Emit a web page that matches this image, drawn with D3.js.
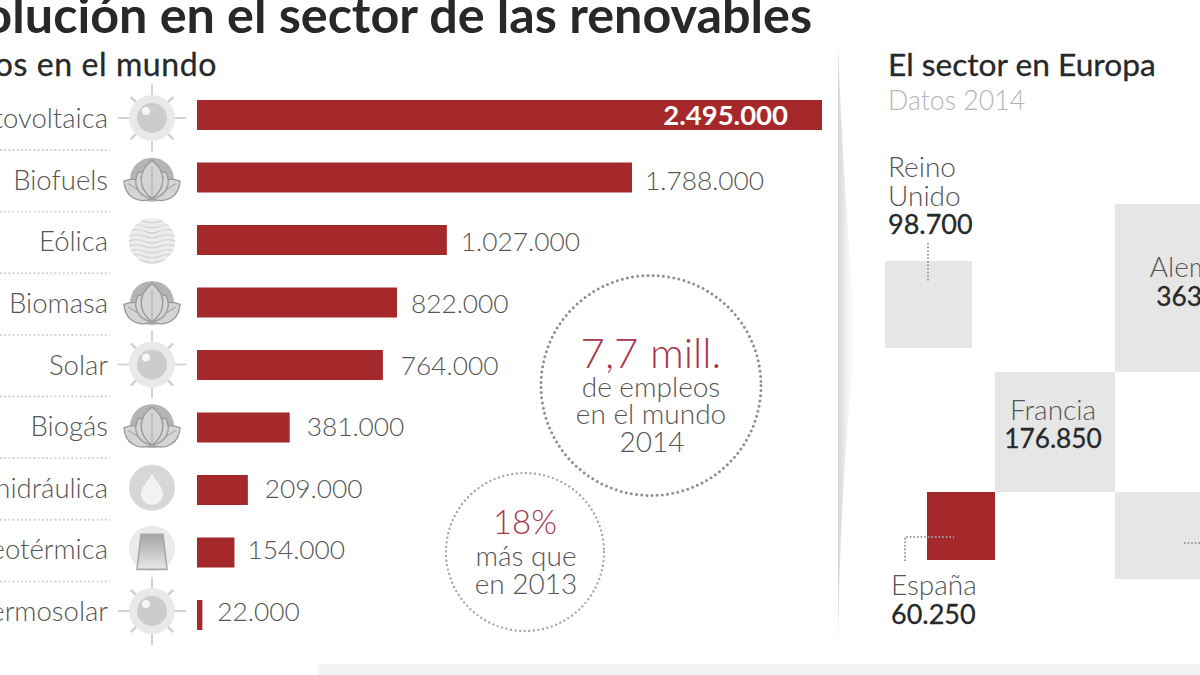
<!DOCTYPE html>
<html><head><meta charset="utf-8">
<script src="https://cdn.jsdelivr.net/npm/d3@7"></script>
<style>html,body{margin:0;padding:0;background:#fff;overflow:hidden}svg{display:block}text{font-family:Lato,sans-serif}</style>
</head><body><svg id="c" width="1200" height="675"></svg>
<script>
const sectors=["Fotovoltaica","Biofuels","Eólica","Biomasa","Solar","Biogás","Minihidráulica","Geotérmica","Termosolar"];
const jobs=[2495000,1788000,1027000,822000,764000,381000,209000,154000,22000];
const icons=["sun","leaf","wave","leaf","sun","leaf","drop","geo","sun"];
const countries=["Reino Unido","Alemania","Francia","España","Italia"];
const countryJobs=[98700,363100,176850,60250,98700];
const fmt=v=>d3.format(",")(v).replace(/,/g,".");

const RED="#a5292b",GREY="#e6e6e6",TXT="#555",DARK="#26282a",ROSE="#a8384c";
const svg=d3.select("#c");
const T=(x,y,s,size,o={})=>svg.append("text").attr("x",x).attr("y",y).text(s)
  .attr("font-size",size).attr("font-weight",o.w||300).attr("fill",o.c||TXT)
  .attr("text-anchor",o.a||"start").attr("stroke",o.sc||"none").attr("stroke-width",o.sw||0)
  .attr("letter-spacing",o.ls||0);

// divider shade + footer strip
const grad=svg.append("defs").append("linearGradient").attr("id","sh");
grad.append("stop").attr("offset",0).attr("stop-color","#d6d6d6");
grad.append("stop").attr("offset",.55).attr("stop-color","#f4f4f4");
grad.append("stop").attr("offset",1).attr("stop-color","#fff");
svg.append("path").attr("d","M838 45 L838 645 Q840 480 856 340 Q842 160 838 45Z").attr("fill","url(#sh)");
svg.append("rect").attr("x",318).attr("y",664).attr("width",882).attr("height",11).attr("fill","#f4f4f4");

// headings
T(812,33,"Evolución en el sector de las renovables",50.3,{a:"end",w:700,c:DARK});
T(217,76,"Empleos en el mundo",32,{a:"end",w:400,c:DARK,sc:DARK,sw:.3,ls:.6});
T(888,76,"El sector en Europa",31.7,{w:400,c:DARK,sc:DARK,sw:.3});
T(888,110,"Datos 2014",26.7,{c:"#b5b5b5"});

// bars
const x=d3.scaleLinear().domain([0,1788000,2495000]).range([0,435,625]);
const yBar=d3.scaleBand().domain(sectors).range([100,630]).paddingInner(.52).paddingOuter(0);
const yRow=d3.scalePoint().domain(sectors).range([118,611]);
svg.append("g").selectAll("rect").data(sectors).join("rect")
  .attr("x",197).attr("y",d=>yBar(d)).attr("height",yBar.bandwidth())
  .attr("width",(d,i)=>x(jobs[i])).attr("fill",RED);

// row labels, separators, icons
const gaps=[0,13,14,14,18,17,17,13,15];
sectors.forEach((s,i)=>{
  const cy=yRow(s),bc=yBar(s)+yBar.bandwidth()/2;
  T(108,cy+10,s,27.5,{a:"end"});
  if(i<sectors.length-1)
    svg.append("line").attr("x1",0).attr("x2",110).attr("y1",cy+32).attr("y2",cy+32)
      .attr("stroke","#cfcfcf").attr("stroke-width",1.8).attr("stroke-dasharray","1.8 2.4");
  if(i===0) T(788,bc+10,fmt(jobs[i]),27.5,{a:"end",w:700,c:"#fff"});
  else T(197+x(jobs[i])+gaps[i],cy+10,fmt(jobs[i]),26.3);
  drawIcon(icons[i],152,cy);
});

function drawIcon(kind,cx,cy){
  const g=svg.append("g").attr("transform",`translate(${cx},${cy})`);
  if(kind==="sun"){
    d3.range(8).forEach(k=>{
      const a=k*Math.PI/4,long=k%2===0,r=long?34:30;
      g.append("line").attr("x1",Math.cos(a)*20).attr("y1",Math.sin(a)*20)
        .attr("x2",Math.cos(a)*r).attr("y2",Math.sin(a)*r)
        .attr("stroke","#cfcfcf").attr("stroke-width",long?1.8:2.4);
    });
    g.append("circle").attr("r",23).attr("fill","#e9e9e9");
    g.append("circle").attr("r",15).attr("fill","#cccccc");
    g.append("circle").attr("cx",-6).attr("cy",-7).attr("r",4).attr("fill","#f6f6f6");
  } else if(kind==="leaf"){
    g.append("circle").attr("r",22).attr("fill","#b4b4b4");
    [[-58,33],[58,33],[-27,30],[27,30],[0,38]].forEach(([a,h])=>{
      const lf=g.append("g").attr("transform",`translate(0,19) rotate(${a})`);
      lf.append("path").attr("d",`M0 0 C${h*.4} ${-h*.3} ${h*.36} ${-h*.75} 0 ${-h} C${-h*.36} ${-h*.75} ${-h*.4} ${-h*.3} 0 0Z`)
        .attr("fill","#d4d4d4").attr("stroke","#9a9a9a").attr("stroke-width",1.3);
      lf.append("line").attr("y2",-h*.85).attr("stroke","#a8a8a8").attr("stroke-width",1);
    });
  } else if(kind==="wave"){
    g.append("circle").attr("r",23).attr("fill","#ececec");
    const clip="wv"+Math.round(cy);
    g.append("clipPath").attr("id",clip).append("circle").attr("r",23);
    d3.range(-20,24,5).forEach(v=>{
      g.append("path").attr("clip-path",`url(#${clip})`)
       .attr("d",`M-24 ${v} q8 -3 16 0 t16 0 t16 0`).attr("fill","none").attr("stroke","#cfcfcf").attr("stroke-width",1.2);
    });
  } else if(kind==="drop"){
    g.append("circle").attr("r",23).attr("fill","#d7d7d7");
    g.append("path").attr("d","M0 -14 C4 -6 11 -1 11 6 A11 11 0 0 1 -11 6 C-11 -1 -4 -6 0 -14Z").attr("fill","#f2f2f2");
  } else {
    g.append("circle").attr("cy",-1).attr("r",23).attr("fill","#ebebeb");
    const grd=svg.select("defs").selectAll("#geo").data([0]).join("linearGradient").attr("id","geo").attr("x2",0).attr("y2",1);
    grd.selectAll("stop").data(["#a4a4a4","#e8e8e8"]).join("stop").attr("offset",(d,j)=>j).attr("stop-color",d=>d);
    g.append("path").attr("d","M-11 -15 L11 -15 L15 20 L-15 20Z").attr("fill","url(#geo)").attr("stroke","#a8a8a8").attr("stroke-width",1.6);
  }
}

// callout circles
const dots=(cx,cy,r,w,col)=>svg.append("circle").attr("cx",cx).attr("cy",cy).attr("r",r).attr("fill","none")
  .attr("stroke",col).attr("stroke-width",w).attr("stroke-linecap","round").attr("stroke-dasharray",`0 ${w+2.2}`);
dots(651,385.5,110,3,"#8f8f8f");
dots(525,552,79,2.4,"#a8a8a8");
T(651,368,"7,7 mill.",42,{a:"middle",c:ROSE});
T(651,397,"de empleos",28,{a:"middle"});
T(651,424,"en el mundo",28,{a:"middle"});
T(652,452,"2014",28,{a:"middle"});
T(525,534,"18%",33,{a:"middle",c:ROSE});
T(526,566,"más que",28,{a:"middle"});
T(526,594,"en 2013",28,{a:"middle"});

// Europe squares: side length encodes the value
const side=d3.scaleSqrt().domain([0,60250,98700,176850,363100]).range([0,68,87,120,168]);
const s=n=>side(countryJobs[countries.indexOf(n)]);
const sq={"España":[995-s("España"),560-s("España")]};
sq["Francia"]=[995,sq["España"][1]-s("Francia")];
sq["Alemania"]=[995+s("Francia"),sq["Francia"][1]-s("Alemania")];
sq["Italia"]=[995+s("Francia"),sq["Francia"][1]+s("Francia")];
sq["Reino Unido"]=[885,261];
svg.append("g").selectAll("rect").data(countries).join("rect")
  .attr("x",d=>sq[d][0]).attr("y",d=>sq[d][1]).attr("width",s).attr("height",s)
  .attr("fill",d=>d==="España"?RED:GREY);

const leader=(pts)=>svg.append("path").attr("d",d3.line()(pts)).attr("fill","none")
  .attr("stroke","#9c9c9c").attr("stroke-width",2).attr("stroke-dasharray","1.6 2");
leader([[928,243],[928,282]]);
leader([[905,561],[905,537],[954,537]]);
leader([[1184,543],[1200,543]]);

const V={w:400,c:DARK,sc:DARK,sw:.3};
T(888,176.5,"Reino",28);T(888,205.5,"Unido",28);
T(888,234,fmt(countryJobs[0]),27,V);
T(1205,277,"Alemania",28,{a:"middle"});
T(1205,306,fmt(countryJobs[1]),26.3,{...V,a:"middle"});
T(1053,419.5,"Francia",28,{a:"middle"});
T(1053,448,fmt(countryJobs[2]),26.3,{...V,a:"middle"});
T(891,595,"España",28);
T(891,624,fmt(countryJobs[3]),27,V);
</script></body></html>
